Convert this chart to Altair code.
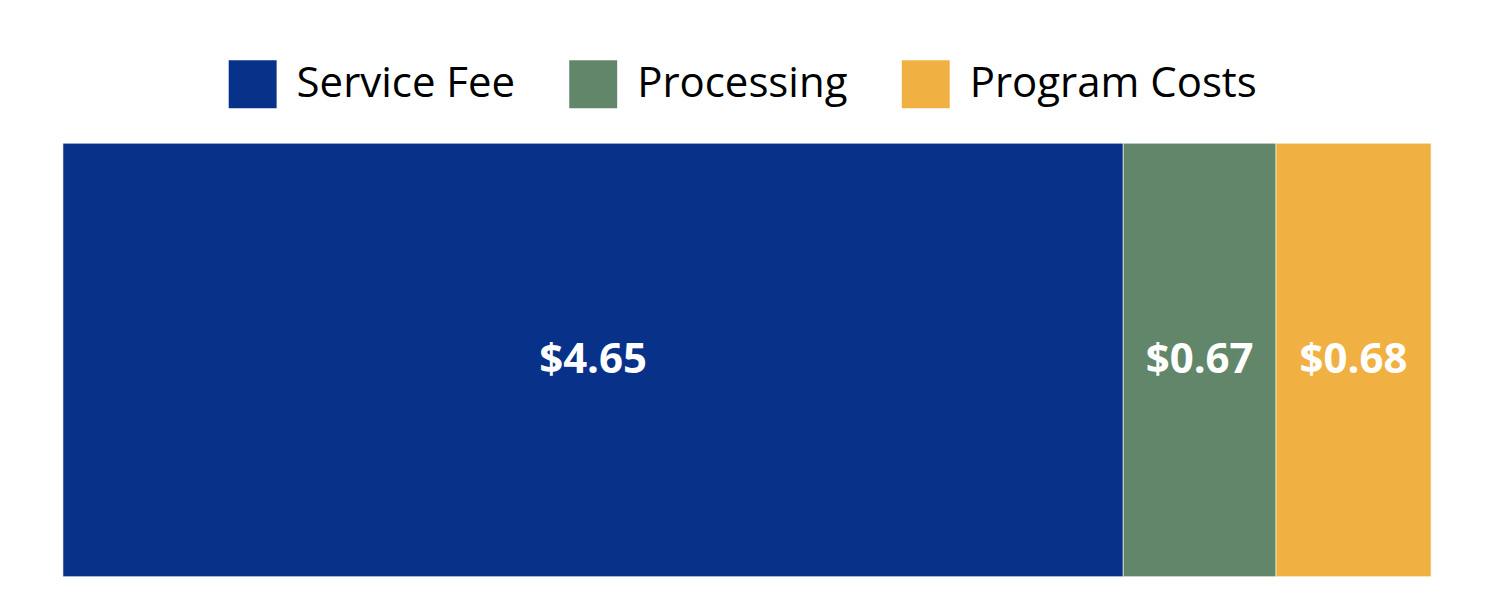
import altair as alt
import pandas as pd

categories = ["Service Fee", "Processing", "Program Costs"]
values = [4.65, 0.67, 0.68]
labels = ["$4.65", "$0.67", "$0.68"]
colors = ["#08318A", "#62866A", "#F0B142"]

df = pd.DataFrame({
    "category": categories,
    "value": values,
    "label": labels,
    "order": list(range(len(categories))),
    "row": ["a"] * len(categories),
})

FONT = "Open Sans"

base = alt.Chart(df).transform_stack(
    stack="value", groupby=["row"], as_=["x0", "x1"], sort=[alt.SortField("order")]
).transform_calculate(mid="(datum.x0 + datum.x1) / 2")

xscale = alt.Scale(domain=[0, 6], nice=False, zero=True)
yenc = alt.Y("row:N", axis=None, scale=alt.Scale(paddingInner=0, paddingOuter=0))

bars = base.mark_bar(stroke="#ffffff", strokeOpacity=0.6, strokeWidth=1).encode(
    x=alt.X("x0:Q", scale=xscale, axis=None),
    x2="x1:Q",
    y=yenc,
    color=alt.Color(
        "category:N",
        scale=alt.Scale(domain=categories, range=colors),
        sort=categories,
        legend=alt.Legend(
            title=None,
            orient="none",
            direction="horizontal",
            legendX=166,
            legendY=-83,
            symbolType="square",
            symbolSize=2304,
            symbolStrokeWidth=0,
            symbolOpacity=1,
            labelFontSize=42,
            labelFont=FONT,
            labelColor="#000000",
            labelOffset=20,
            columnPadding=54,
            labelLimit=500,
        ),
    ),
)

text = base.mark_text(
    color="white", fontSize=42, fontWeight="bold", font=FONT, align="center", baseline="middle"
).encode(
    x=alt.X("mid:Q", scale=xscale, axis=None),
    y=yenc,
    text="label:N",
)

chart = (bars + text).properties(
    width=1370,
    height=434,
    padding={"left": 54, "top": 52, "right": 60, "bottom": 15},
).configure_view(stroke=None)

chart.save("out.html", embed_options={"renderer": "svg", "actions": False})
